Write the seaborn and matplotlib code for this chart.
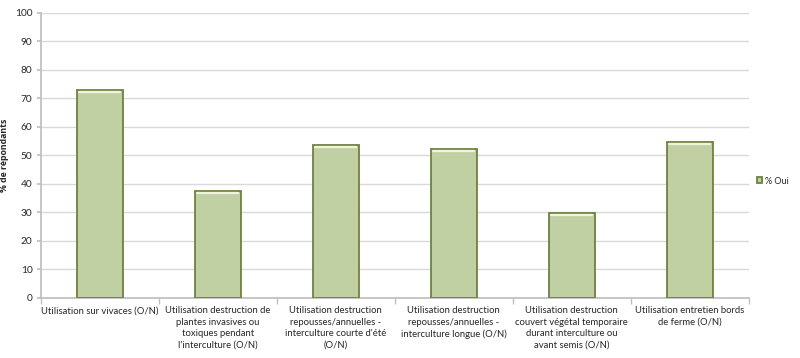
import numpy as np
import pandas as pd
import matplotlib.pyplot as plt
import seaborn as sns

categories = [
    "Utilisation sur vivaces (O/N)",
    "Utilisation destruction de\nplantes invasives ou\ntoxiques pendant\nl'interculture (O/N)",
    "Utilisation destruction\nrepousses/annuelles -\ninterculture courte d'été\n(O/N)",
    "Utilisation destruction\nrepousses/annuelles -\ninterculture longue (O/N)",
    "Utilisation destruction\ncouvert végétal temporaire\ndurant interculture ou\navant semis (O/N)",
    "Utilisation entretien bords\nde ferme (O/N)",
]
values = [73.1, 37.4, 53.7, 52.1, 29.8, 54.7]
series_name = "% Oui"

df = pd.DataFrame({'categorie': categories, 'valeur': values, 'serie': series_name})

sns.set_theme(style='white')
plt.rcParams['font.family'] = ['Lato', 'DejaVu Sans']

fig = plt.figure(figsize=(8, 3.58), dpi=100)
ax = fig.add_axes([0.051, 0.168, 0.885, 0.796])

sns.barplot(data=df, x='categorie', y='valeur', hue='serie', palette=['#c4d79b'],
            width=0.39, edgecolor='#6f8040', linewidth=1.3, ax=ax, zorder=3)

# reflet clair en haut des barres (effet biseau)
for p in ax.patches:
    x0, w, h = p.get_x(), p.get_width(), p.get_height()
    if h > 0:
        ax.plot([x0 + 0.02, x0 + w - 0.02], [h - 0.7, h - 0.7], color='#eef5dc', lw=1.6, zorder=4)

ax.set_ylim(0, 100)
ax.set_yticks(range(0, 101, 10))
ax.set_xlim(-0.5, 5.5)
ax.yaxis.grid(True, color='#d9d9d9', linewidth=1, zorder=0)
for s in ['top', 'right']:
    ax.spines[s].set_visible(False)
ax.spines['left'].set_color('#bfbfbf')
ax.spines['bottom'].set_color('#bfbfbf')

ax.set_xlabel('')
ax.set_ylabel('% de répondants', fontsize=6.3, fontweight='bold', labelpad=4,
              family=['Open Sans', 'DejaVu Sans'])
ax.tick_params(axis='y', labelsize=7.3, length=3, color='#bfbfbf', left=True, pad=3)
ax.tick_params(axis='x', labelsize=6.8, length=0, pad=6)
ax.set_xticks(np.arange(-0.5, 6.0, 1.0), minor=True)
ax.tick_params(axis='x', which='minor', length=4, color='#bfbfbf', bottom=True)
for t in ax.get_xticklabels():
    t.set_linespacing(1.35)

leg = ax.legend(loc='center left', bbox_to_anchor=(1.0, 0.41), frameon=False,
                fontsize=6.5, handlelength=0.6, handleheight=0.6, handletextpad=0.3)

fig.savefig('out.png', dpi=100)
